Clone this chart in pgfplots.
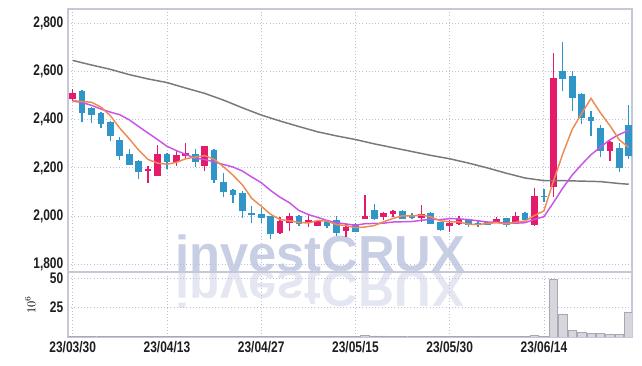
\documentclass[border=0pt]{standalone}
\usepackage{fontspec}
\setmainfont{Liberation Sans}[FakeStretch=0.78]
\newfontfamily\wmfont{Liberation Sans}[BoldFont={* Bold}]
\usepackage{pgfplots}
\usepackage{pgfplotstable}
\pgfplotsset{compat=1.18}
\definecolor{upc}{RGB}{228,26,106}
\definecolor{dnc}{RGB}{48,150,200}
\definecolor{maA}{RGB}{238,138,82}
\definecolor{maB}{RGB}{200,84,232}
\definecolor{maC}{RGB}{120,120,120}
\definecolor{gridc}{RGB}{188,192,216}
\definecolor{framec}{RGB}{198,200,216}
\definecolor{wm}{RGB}{200,206,228}
\definecolor{wmr}{RGB}{228,231,242}
\definecolor{volf}{RGB}{214,214,220}
\definecolor{vole}{RGB}{168,168,178}
\definecolor{tickc}{RGB}{30,30,30}

\pgfplotstableread{
i o h l c
0 2486 2528 2478 2511
8 2186 2208 2139 2192
9 2168 2296 2168 2258
11 2225 2272 2208 2254
12 2250 2305 2240 2261
14 2208 2290 2186 2289
22 1928 1994 1926 1976
23 1970 2014 1937 2000
25 1970 2007 1956 1983
26 1960 1983 1958 1976
29 1939 1967 1914 1951
31 1989 2087 1987 1997
33 1997 2015 1985 2010
34 2007 2024 1997 2021
37 1993 2045 1976 2008
40 1960 1983 1935 1970
41 1965 2000 1963 1986
45 1976 1997 1970 1986
47 1970 2018 1968 1997
49 1962 2115 1960 2080
51 2120 2680 2080 2574
57 2271 2310 2229 2307
}\upT

\pgfplotstableread{
i o h l c
1 2521 2525 2390 2430
2 2450 2452 2386 2422
3 2430 2433 2365 2385
4 2392 2394 2312 2335
5 2317 2330 2233 2251
6 2258 2279 2214 2214
7 2229 2233 2153 2185
10 2258 2262 2194 2226
13 2258 2278 2203 2225
15 2275 2277 2139 2150
16 2143 2178 2080 2100
17 2108 2112 2056 2088
18 2097 2105 1990 2021
19 2014 2042 1970 2006
20 2008 2032 1972 1992
21 2000 2001 1903 1928
24 2000 2003 1958 1970
27 1980 1983 1950 1961
28 1983 2000 1917 1930
30 1965 1972 1932 1935
32 2025 2050 1983 1989
35 2021 2025 1987 1989
36 2000 2014 1986 1992
38 2014 2018 1965 1970
39 1975 1977 1937 1942
42 1986 1988 1956 1962
43 1970 1980 1953 1964
44 1974 1978 1965 1966
46 1990 1992 1953 1962
48 2014 2016 1984 1986
50 2085 2111 2060 2080
52 2604 2724 2518 2572
53 2583 2602 2435 2493
54 2508 2510 2382 2410
55 2412 2437 2333 2397
56 2365 2379 2247 2272
58 2282 2303 2185 2201
59 2379 2462 2236 2250
}\dnT

\pgfplotstableread{
i v
0 0.3
1 0.8
2 0.4
3 0.7
4 0.7
5 0.7
6 0.7
7 0.7
8 0.7
9 0.7
10 0.3
11 0.3
12 0.3
13 0.4
14 0.7
15 0.7
16 0.7
17 0.3
18 0.7
19 0.3
20 0.3
21 0.7
22 0.3
23 0.3
24 0.3
25 0.3
26 0.3
27 0.3
28 0.7
29 0.3
30 0.3
31 1.6
32 0.9
33 0.9
34 0.3
35 0.7
36 0.3
37 0.7
38 0.3
39 0.3
40 0.3
41 0.3
42 0.3
43 0.3
44 0.3
45 0.3
46 0.3
47 0.7
48 0.3
49 1.4
50 0.8
51 49
52 19.5
53 5.4
54 3.7
55 3.1
56 2.8
57 2.3
58 2.3
59 21.2
}\volT

\pgfplotsset{
  tfont/.style={font=\fontsize{11.5}{12}\selectfont\bfseries, text=tickc},
  candle/.style={only marks, mark=*, mark size=0pt,
    mark options={draw=none, fill=none}, forget plot},
}

\begin{document}
\begin{tikzpicture}
\path[use as bounding box] (0,0) rectangle (481.5pt,274.5pt);
% watermark and its reflection
\node[anchor=base, text=wm, font=\wmfont\fontsize{38}{40}\selectfont\bfseries] at (240pt,70.5pt) {investCRUX};
\node[anchor=base, yscale=-1, text=wmr, font=\wmfont\fontsize{38}{40}\selectfont\bfseries] at (240pt,70.5pt) {investCRUX};

\begin{axis}[
  at={(51pt,70.5pt)}, anchor=south west, scale only axis,
  width=423pt, height=197.25pt,
  xmin=-0.5, xmax=59.35, ymin=1767, ymax=2861,
  xtick={0,10,20,30,40,50}, xticklabels={},
  ytick={1800,2000,2200,2400,2600,2800},
  grid=major, grid style={gridc, dotted, line width=0.6pt},
  axis line style={framec, line width=0.8pt},
  major tick length=0pt,
  tick label style={tfont},
  yticklabel style={/pgf/number format/1000 sep={,}},
  /pgf/number format/assume math mode=true,
]
% wicks
\addplot[candle,
  error bars/.cd, y dir=plus, y explicit, error mark=none,
  error bar style={line width=1pt, color=upc}]
  table[x=i, y=l, y error expr=\thisrow{h}-\thisrow{l}] {\upT};
\addplot[candle,
  error bars/.cd, y dir=plus, y explicit, error mark=none,
  error bar style={line width=1pt, color=dnc}]
  table[x=i, y=l, y error expr=\thisrow{h}-\thisrow{l}] {\dnT};
% bodies
\addplot[candle,
  error bars/.cd, y dir=plus, y explicit, error mark=none,
  error bar style={line width=5pt, color=upc}]
  table[x=i, y=o, y error expr=\thisrow{c}-\thisrow{o}+1.5] {\upT};
\addplot[candle,
  error bars/.cd, y dir=minus, y explicit, error mark=none,
  error bar style={line width=5pt, color=dnc}]
  table[x=i, y=o, y error expr=\thisrow{o}-\thisrow{c}+1.5] {\dnT};
% long moving average
\addplot[maC, line width=1.1pt, mark=none] coordinates {
(0,2647) (2,2628) (4,2610) (6,2588) (8,2570) (10,2555) (12,2532) (14,2510)
(16,2482) (18,2450) (20,2420) (22,2395) (24,2372) (26,2350) (28,2333)
(30,2318) (32,2300) (34,2284) (36,2268) (38,2252) (40,2238) (42,2220)
(44,2200) (46,2178) (48,2158) (50,2147) (52,2147) (54,2145) (56,2143)
(58,2135) (59,2132)};
% 10-day
\addplot[maB, line width=1.1pt, mark=none] coordinates {
(0,2478) (1,2472) (2,2460) (3,2445) (4,2432) (5,2421) (6,2400) (7,2372)
(8,2345) (9,2318) (10,2290) (11,2272) (12,2256) (13,2240) (14,2235)
(15,2225) (16,2214) (17,2204) (18,2187) (19,2162) (20,2139) (21,2106)
(22,2078) (23,2055) (24,2023) (25,2006) (26,1994) (27,1981) (28,1972)
(29,1967) (30,1961) (31,1968) (32,1969) (33,1970) (34,1975) (35,1976)
(36,1977) (37,1982) (38,1986) (39,1985) (40,1989) (41,1988) (42,1985)
(43,1980) (44,1975) (45,1974) (46,1971) (47,1970) (48,1972) (49,1986)
(50,1997) (51,2055) (52,2116) (53,2170) (54,2214) (55,2255) (56,2286)
(57,2317) (58,2339) (59,2356)};
% 5-day
\addplot[maA, line width=1.1pt, mark=none] coordinates {
(0,2480) (1,2476) (2,2473) (3,2453) (4,2417) (5,2365) (6,2321) (7,2274)
(8,2235) (9,2220) (10,2215) (11,2223) (12,2238) (13,2245) (14,2251)
(15,2236) (16,2205) (17,2170) (18,2130) (19,2073) (20,2041) (21,2007)
(22,1985) (23,1980) (24,1973) (25,1971) (26,1981) (27,1978) (28,1964)
(29,1960) (30,1951) (31,1954) (32,1960) (33,1976) (34,1990) (35,2001)
(36,2000) (37,2004) (38,1996) (39,1980) (40,1976) (41,1975) (42,1966)
(43,1964) (44,1969) (45,1972) (46,1967) (47,1974) (48,1979) (49,2002)
(50,2021) (51,2143) (52,2258) (53,2360) (54,2426) (55,2489) (56,2429)
(57,2376) (58,2317) (59,2285)};
\end{axis}

\begin{axis}[
  at={(51pt,21.75pt)}, anchor=south west, scale only axis,
  width=423pt, height=48.75pt,
  xmin=-0.5, xmax=59.35, ymin=0, ymax=55,
  xtick={0,10,20,30,40,50},
  xticklabels={23/03/30,23/04/13,23/04/27,23/05/15,23/05/30,23/06/14},
  ytick={25,50},
  grid=major, grid style={gridc, dotted, line width=0.6pt},
  axis line style={framec, line width=0.8pt},
  major tick length=0pt,
  tick label style={tfont},
  ylabel={$10^{6}$}, ylabel style={font=\small, yshift=4pt},
  /pgf/number format/assume math mode=true,
]
\addplot[ybar, bar width=6.3pt, fill=volf, draw=vole, line width=0.4pt] table[x=i, y=v] {\volT};
\end{axis}
\end{tikzpicture}
\end{document}
